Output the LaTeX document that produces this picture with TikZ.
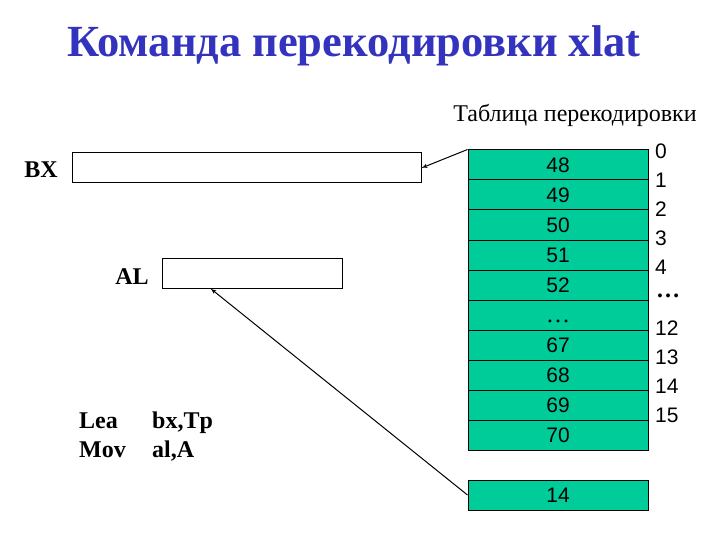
\documentclass[tikz,border=0pt]{standalone}
\usepackage{fontspec}
\setmainfont{Liberation Serif}
\setsansfont{Liberation Sans}
\usetikzlibrary{calc, shapes, arrows}
\definecolor{tabgreen}{RGB}{0,204,153}
\definecolor{titleblue}{RGB}{51,51,190}

\begin{document}
\begin{tikzpicture}[x=1pt,y=-1pt]
\tikzstyle{line} = [draw, line width=1pt, -latex']
\tikzstyle{reg}=[rectangle,draw,line width=1pt,minimum height=30pt,inner sep=0pt]
\tikzstyle{cell}=[rectangle,draw,line width=1pt,fill=tabgreen,minimum width=180pt,minimum height=30pt,inner sep=0pt,font=\sffamily\fontsize{21}{21}\selectfont]
\tikzstyle{lbl}=[inner sep=0pt,font=\bfseries\fontsize{24}{24}\selectfont]
\tikzstyle{idx}=[inner sep=0pt,font=\sffamily\fontsize{21}{21}\selectfont]
\useasboundingbox (0,0) rectangle (720,540);
\node[text=titleblue,font=\bfseries\fontsize{44.5}{44.5}\selectfont] (title) at (354,46) {Команда перекодировки xlat};
\node[font=\fontsize{24}{24}\selectfont] (tabname) at (575,115) {Таблица перекодировки};
\node[reg,minimum width=349pt] (bx) at (246.5,168) {};
\node[lbl] (bxname) at (41,170) {BX};
\node[reg,minimum width=180pt] (al) at (252,273) {};
\node[lbl] (alname) at (132,277) {AL};
\node[lbl,anchor=base west] (lea) at (79,428) {Lea};
\node[lbl,anchor=base west] (leaarg) at (152,428) {bx,Tp};
\node[lbl,anchor=base west] (mov) at (79,457) {Mov};
\node[lbl,anchor=base west] (movarg) at (152,457) {al,A};
% table
\foreach \val [count=\i from 0] in {48,49,50,51,52,{\rmfamily\fontsize{24}{24}\selectfont\vphantom{A}\dots},67,68,69,70}
  \node[cell] (c\i) at (558,165+30*\i) {\val};
\node[cell] (lookup) at (558,495) {14};
\foreach \num/\y in {0/151,1/180,2/209,3/238,4/267,12/328,13/357,14/386,15/415}
  \node[idx,anchor=west] (n\num) at (655,\y) {\num};
\node[inner sep=0pt,font=\bfseries\fontsize{24}{24}\selectfont] (ndots) at (668,296) {\dots};
\path [line] (c0.north west) -- (bx.east);
\path [line] (lookup.west) -- ($(al.south west)+(49,0)$);
\end{tikzpicture}
\end{document}
